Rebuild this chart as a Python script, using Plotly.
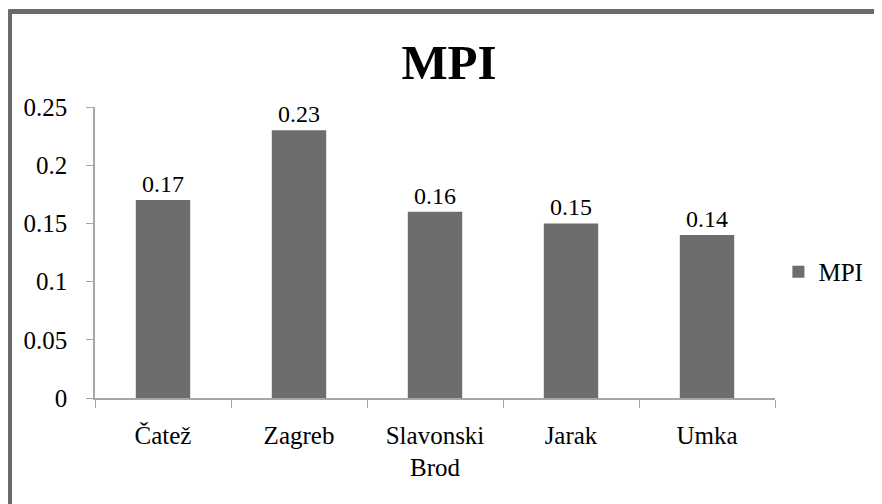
import plotly.graph_objects as go

categories = ["Čatež", "Zagreb", "Slavonski<br>Brod", "Jarak", "Umka"]
mpi_values = [0.17, 0.23, 0.16, 0.15, 0.14]
mpi_labels = ["0.17", "0.23", "0.16", "0.15", "0.14"]
y_ticks = [0, 0.05, 0.1, 0.15, 0.2, 0.25]
y_tick_labels = ["0", "0.05", "0.1", "0.15", "0.2", "0.25"]

FONT = "Liberation Serif"
BAR = "#6d6d6d"
AXIS = "#a6a6a6"

fig = go.Figure()
fig.add_trace(go.Bar(
    x=categories, y=mpi_values, name="MPI",
    marker=dict(color=BAR, line=dict(width=0)),
    text=mpi_labels, textposition="outside", cliponaxis=False,
    textfont=dict(family=FONT, size=24, color="black"),
    showlegend=True,
))

fig.update_layout(
    template="none",
    width=882, height=504,
    margin=dict(l=87, r=115, t=99, b=114),
    paper_bgcolor="white", plot_bgcolor="white",
    font=dict(family=FONT, color="black", size=24),
    bargap=0.6,
    title=dict(text="<b>MPI</b>", x=0.5, xanchor="center", y=0.893, yanchor="middle",
               font=dict(family=FONT, size=49, color="black")),
    legend=dict(x=1.005, xanchor="left", y=0.433, yanchor="middle",
                font=dict(family=FONT, size=25, color="black"),
                bgcolor="rgba(0,0,0,0)", itemwidth=30, tracegroupgap=0),
    xaxis=dict(showgrid=False, showline=True, linecolor=AXIS, linewidth=1.5,
               ticks="outside", ticklen=8, tickcolor=AXIS, tickson="boundaries",
               ticklabelstandoff=14,
               tickfont=dict(family=FONT, size=25, color="black"), zeroline=False),
    yaxis=dict(range=[0, 0.25], tickvals=y_ticks, ticktext=y_tick_labels,
               showgrid=False, showline=True, linecolor=AXIS, linewidth=1.5,
               ticks="outside", ticklen=7, tickcolor=AXIS, ticklabelstandoff=14,
               tickfont=dict(family=FONT, size=25, color="black"), zeroline=False),
    shapes=[
        dict(type="line", xref="paper", yref="paper", x0=-0.1257, x1=1.2, y0=1.328, y1=1.328,
             line=dict(color="#6b6b6b", width=5)),
        dict(type="line", xref="paper", yref="paper", x0=-0.1257, x1=-0.1257, y0=1.336, y1=-0.4,
             line=dict(color="#6b6b6b", width=5)),
    ],
)

fig.write_html("out.html")
